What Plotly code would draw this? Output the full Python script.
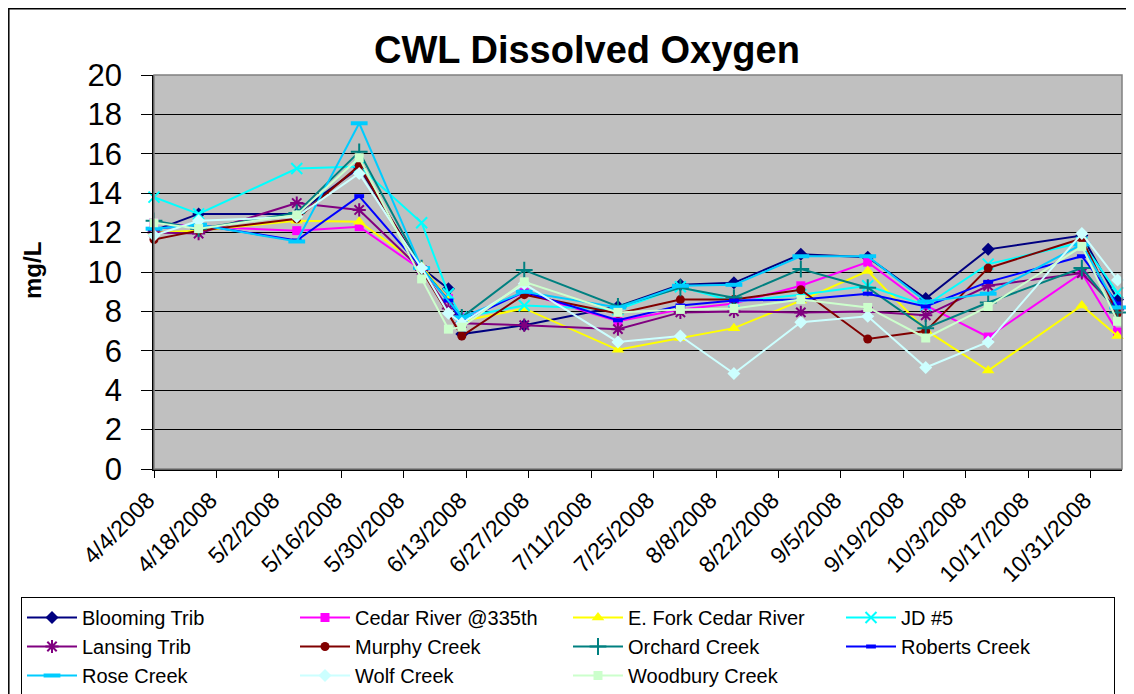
import plotly.graph_objects as go

dates = ['2008-04-04', '2008-04-14', '2008-05-06', '2008-05-20', '2008-06-03', '2008-06-09',
         '2008-06-12', '2008-06-26', '2008-07-17', '2008-07-31', '2008-08-12', '2008-08-27',
         '2008-09-11', '2008-09-24', '2008-10-08', '2008-10-29', '2008-11-06']

blooming_trib = [12.1, 12.95, 12.95, 15.3, 10.2, 9.15, 6.85, 7.3, 8.25, 9.35, 9.45, 10.9, 10.75, 8.65, 11.15, 11.85, 8.6]
cedar_river = [12.5, 12.3, 12.1, 12.3, 10.1, 8.65, 7.7, 8.95, 7.5, 8.1, 8.4, 9.3, 10.5, 8.3, 6.7, 9.95, 6.95]
efork_cedar = [12.0, 12.1, 12.6, 12.55, 10.3, 8.6, 7.5, 8.15, 6.05, 6.65, 7.15, 8.55, 10.05, 7.05, 5.0, 8.3, 6.75]
jd5 = [13.8, 12.95, 15.25, 15.35, 12.5, 8.9, 7.7, 8.3, 8.1, 9.25, 8.5, 8.85, 9.3, 8.3, 10.4, 11.5, 8.95]
lansing_trib = [12.0, 11.95, 13.5, 13.15, 10.1, 8.15, 7.4, 7.3, 7.1, 7.95, 8.0, 7.95, 8.0, 7.8, 9.3, 9.95, 8.1]
murphy_creek = [11.65, 12.1, 12.7, 15.4, 10.1, None, 6.75, 8.85, 7.9, 8.6, 8.6, 9.1, 6.6, 7.0, 10.2, 11.7, 7.9]
orchard_creek = [12.6, 12.2, 13.0, 16.1, 10.2, None, 7.7, 10.1, 8.25, 9.2, 8.7, 10.15, 9.2, 7.15, 8.45, 10.2, 7.95]
roberts_creek = [12.2, 12.4, 11.6, 13.85, 10.2, 8.55, 7.5, 9.0, 7.55, 8.3, 8.55, 8.6, 8.9, 8.25, 9.5, 10.8, 8.4]
rose_creek = [12.2, 12.4, 11.55, 17.55, 10.2, None, 7.7, 9.0, 8.2, 9.3, 9.35, 10.8, 10.8, 8.5, 8.9, 11.4, 8.2]
wolf_creek = [11.85, 12.6, 12.8, 15.0, 10.2, 7.9, 7.4, 9.4, 6.45, 6.75, 4.85, 7.45, 7.75, 5.15, 6.45, 11.95, 9.6]
woodbury_creek = [12.5, 12.2, 12.9, 15.8, 9.65, 7.1, 7.2, 9.5, 7.95, 8.1, 8.15, 8.6, 8.2, 6.65, 8.25, 11.3, 7.5]

series = [
    ("Blooming Trib", blooming_trib, "#000080", dict(symbol="diamond", size=10)),
    ("Cedar River @335th", cedar_river, "#FF00FF", dict(symbol="square", size=9)),
    ("E. Fork Cedar River", efork_cedar, "#FFFF00", dict(symbol="triangle-up", size=11)),
    ("JD #5", jd5, "#00FFFF", dict(symbol="x-thin", size=11, line=dict(width=2, color="#00FFFF"))),
    ("Lansing Trib", lansing_trib, "#800080", dict(symbol="asterisk", size=11, line=dict(width=2, color="#800080"))),
    ("Murphy Creek", murphy_creek, "#800000", dict(symbol="circle", size=9)),
    ("Orchard Creek", orchard_creek, "#008080", dict(symbol="cross-thin", size=12, line=dict(width=2, color="#008080"))),
    ("Roberts Creek", roberts_creek, "#0000FF", dict(symbol="line-ew", size=7, line=dict(width=4, color="#0000FF"))),
    ("Rose Creek", rose_creek, "#00CCFF", dict(symbol="line-ew", size=12, line=dict(width=4, color="#00CCFF"))),
    ("Wolf Creek", wolf_creek, "#CCFFFF", dict(symbol="diamond", size=10)),
    ("Woodbury Creek", woodbury_creek, "#CCFFCC", dict(symbol="square", size=9)),
]

fig = go.Figure()
for name, vals, color, mk in series:
    m = dict(color=color)
    m.update(mk)
    fig.add_trace(go.Scatter(x=dates, y=vals, name=name, mode="lines+markers",
                             connectgaps=True, cliponaxis=False,
                             line=dict(color=color, width=2), marker=m))

# page body has an 8px margin: figure is drawn at screen offset (8, 8)
OFF = 8
W, H = 1134 - OFF, 694 - OFF
PL, PR, PT, PB = 154, 1122, 75, 469   # plot area in screen pixels
L, R, T, B = PL - OFF, (1134 - PR), PT - OFF, H - (PB - OFF)
pw, ph = PR - PL, PB - PT

def sx(x):
    return (x - PL) / pw

def sy(y):
    return (PB - y) / ph

font = "Liberation Sans, Arial, sans-serif"

fig.update_layout(
    width=W, height=H, autosize=False,
    margin=dict(l=L, r=R, t=T, b=B, pad=0, autoexpand=False),
    paper_bgcolor="white", plot_bgcolor="#C0C0C0",
    font=dict(family=font, color="black"),
    title=dict(text="<b>CWL Dissolved Oxygen</b>", font=dict(size=38, family=font, color="black"),
               x=sx(587), xref="paper", xanchor="center", y=1 - (50 - OFF) / H, yref="container",
               yanchor="middle"),
    legend=dict(orientation="h", x=sx(21), y=sy(597), xanchor="left", yanchor="top",
                bgcolor="white", bordercolor="black", borderwidth=1,
                font=dict(size=20, family=font, color="black"),
                itemwidth=50, entrywidth=208, entrywidthmode="pixels", tracegroupgap=0),
    xaxis=dict(type="date", range=["2008-04-04", "2008-11-07"], tick0="2008-04-04",
               dtick=14 * 86400000, tickformat="%-m/%-d/%Y", tickangle=-45,
               ticks="outside", ticklen=7, tickcolor="black", showgrid=False,
               showline=True, linecolor="black", linewidth=1.5, automargin=False,
               ticklabelshift=-6,
               tickfont=dict(size=23, family=font, color="black")),
    yaxis=dict(range=[0, 20], dtick=2, tick0=0, ticks="outside", ticklen=11, tickcolor="black",
               showgrid=True, gridcolor="black", gridwidth=1, zeroline=False, automargin=False,
               showline=True, linecolor="black", linewidth=1.5, ticklabelstandoff=13,
               tickfont=dict(size=31, family=font, color="black")),
    annotations=[dict(text="<b>mg/L</b>", textangle=-90, x=sx(32), y=sy(271), xref="paper", yref="paper",
                      showarrow=False, font=dict(size=24, family=font, color="black"),
                      xanchor="center", yanchor="middle")],
    shapes=[
        dict(type="rect", xref="paper", yref="paper", x0=0, x1=1, y0=0, y1=1,
             line=dict(color="#808080", width=1.5), layer="above"),
        dict(type="rect", xref="paper", yref="paper", x0=sx(8.8), x1=sx(1150), y0=sy(710), y1=sy(8.8),
             line=dict(color="black", width=1.5)),
    ],
)

fig.write_html("out.html")
